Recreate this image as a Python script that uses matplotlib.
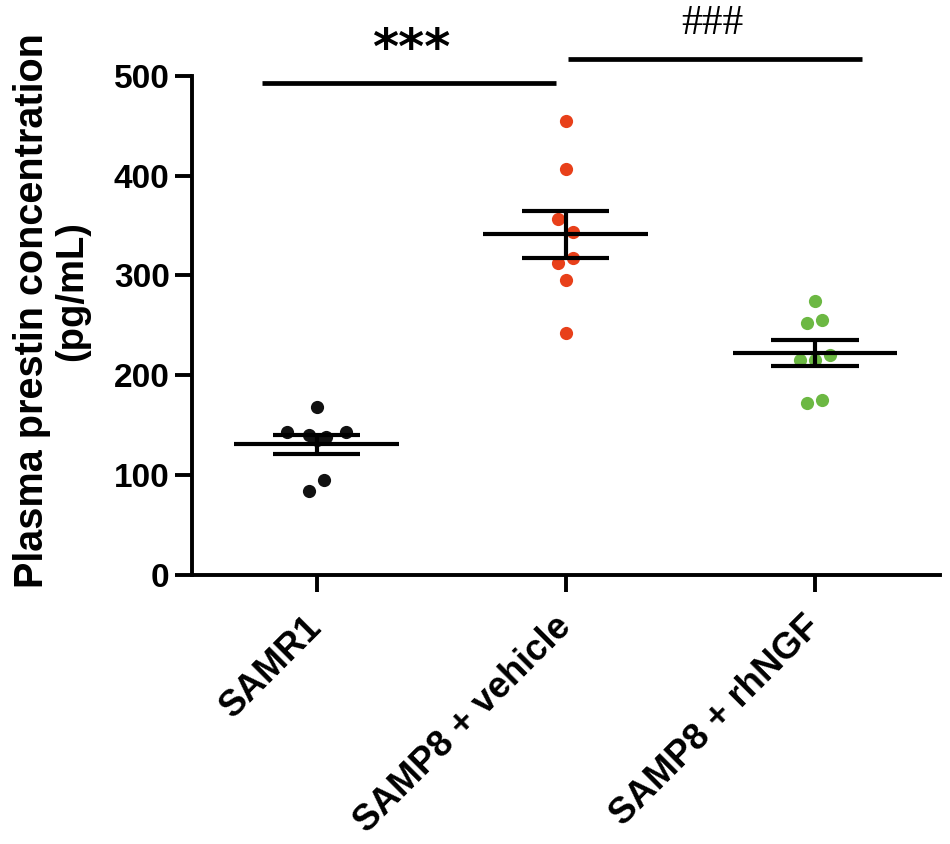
import numpy as np
import matplotlib
matplotlib.use("Agg")
import matplotlib.pyplot as plt

plt.rcParams['font.family'] = ['Liberation Sans', 'DejaVu Sans']
plt.rcParams['font.weight'] = 'bold'

# groups and read-off values
groups = ['SAMR1', 'SAMP8 + vehicle', 'SAMP8 + rhNGF']
colors = ['#111111', '#E8401A', '#6CB843']
samr1 = [168, 143, 143, 140, 138, 135, 95, 84]
samr1_dx = [0.0, -0.12, 0.12, -0.03, 0.04, 0.0, 0.03, -0.03]
vehicle = [455, 407, 357, 344, 318, 313, 295, 242]
vehicle_dx = [0.0, 0.0, -0.03, 0.03, 0.03, -0.03, 0.0, 0.0]
rhngf = [274, 252, 255, 220, 215, 215, 172, 175]
rhngf_dx = [0.0, -0.03, 0.03, 0.06, -0.06, 0.0, -0.03, 0.03]

values = [samr1, vehicle, rhngf]
offsets = [samr1_dx, vehicle_dx, rhngf_dx]

fig = plt.figure(figsize=(9.5, 8.44), dpi=100)
ax = fig.add_axes([0.202, 0.319, 0.787, 0.591])

for i, (v, dx, c) in enumerate(zip(values, offsets, colors)):
    v = np.array(v, dtype=float)
    x = i + np.array(dx)
    ax.plot(x, v, 'o', color=c, markersize=9.5, markeredgewidth=0, zorder=2, clip_on=False)
    m = v.mean()
    sem = v.std(ddof=1) / np.sqrt(len(v))
    ax.hlines(m, i - 0.33, i + 0.33, color='black', lw=3, zorder=3)
    ax.hlines([m - sem, m + sem], i - 0.175, i + 0.175, color='black', lw=3, zorder=3)
    ax.vlines(i, m - sem, m + sem, color='black', lw=3, zorder=3)

# significance bars
ax.plot([-0.22, 0.96], [493, 493], color='black', lw=3.4, clip_on=False, solid_capstyle='butt')
ax.plot([1.01, 2.19], [517, 517], color='black', lw=3.4, clip_on=False, solid_capstyle='butt')
ax.text(0.38, 526, '***', ha='center', va='center', fontsize=36, fontweight='bold',
        family=['DejaVu Sans'])
ax.text(1.59, 552, '###', ha='center', va='center', fontsize=30, fontweight='normal',
        family=['Liberation Serif', 'DejaVu Serif'])

ax.set_xlim(-0.5, 2.5)
ax.set_ylim(0, 500)
ax.set_yticks([0, 100, 200, 300, 400, 500])
ax.set_xticks(range(3))
ax.set_xticklabels(groups, rotation=45, ha='right', va='center', rotation_mode='anchor',
                   fontsize=26.3)

for s in ['top', 'right']:
    ax.spines[s].set_visible(False)
for s in ['left', 'bottom']:
    ax.spines[s].set_linewidth(2.8)

ax.tick_params(axis='both', direction='out', length=12, width=2.8, pad=4)
ax.tick_params(axis='y', labelsize=24)
ax.tick_params(axis='x', pad=22)
for lab in ax.get_xticklabels() + ax.get_yticklabels():
    lab.set_fontweight('bold')

# y label, two lines placed separately
fig.text(32 / 950, 1 - 311 / 844, 'Plasma prestin concentration', rotation=90,
         ha='center', va='center', fontsize=28.5, fontweight='bold')
fig.text(72 / 950, 1 - 291 / 844, '(pg/mL)', rotation=90,
         ha='center', va='center', fontsize=27.5, fontweight='bold')

fig.savefig('out.png', dpi=100)
